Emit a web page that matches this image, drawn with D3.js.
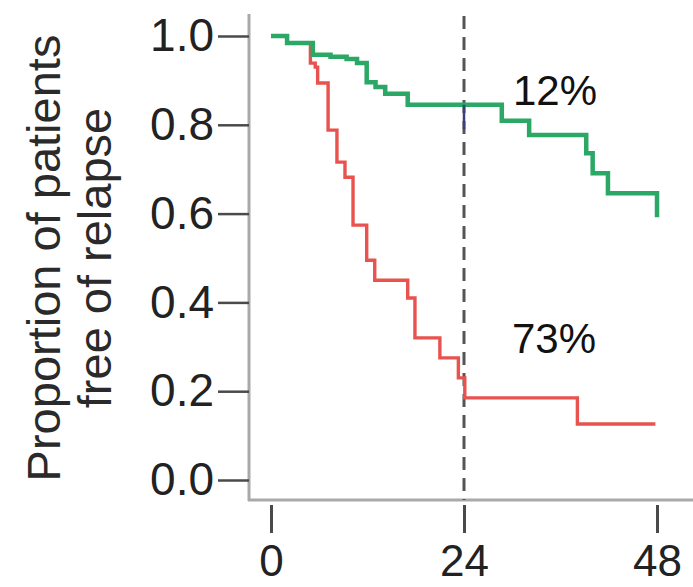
<!DOCTYPE html>
<html>
<head>
<meta charset="utf-8">
<script src="https://cdn.jsdelivr.net/npm/d3@7/dist/d3.min.js"></script>
<style>
  html, body { margin: 0; padding: 0; background: #fff; }
  svg { display: block; font-family: "Liberation Sans", Arial, Helvetica, sans-serif; }
</style>
</head>
<body>
<svg id="chart" width="693" height="587"></svg>
<script>
// Kaplan–Meier step data: months and proportion free of relapse
const greenTimes  = [0, 2.0, 5.2, 7.4, 9.4, 10.7, 11.9, 13.0, 14.2, 17.0, 28.7, 32.1, 39.2, 40.0, 41.9, 48.0];
const greenValues = [1.0, 0.984, 0.958, 0.953, 0.948, 0.939, 0.896, 0.885, 0.870, 0.845, 0.809, 0.777, 0.736, 0.691, 0.646, 0.592];

const redTimes  = [0, 2.0, 4.9, 5.5, 5.8, 7.1, 8.2, 9.2, 10.2, 11.9, 12.9, 17.0, 17.9, 21.0, 23.3, 24.1, 38.1, 47.8];
const redValues = [1.0, 0.984, 0.939, 0.93, 0.894, 0.788, 0.716, 0.682, 0.574, 0.495, 0.45, 0.41, 0.32, 0.275, 0.23, 0.185, 0.126, 0.126];

const xTicks = [0, 24, 48];
const yTicks = [0, 0.2, 0.4, 0.6, 0.8, 1.0];
const landmarkMonth = 24;
const greenLabel = "12%";
const redLabel = "73%";
const yTitleLines = ["Proportion of patients", "free of relapse"];

const svg = d3.select("#chart");

const x = d3.scaleLinear().domain([0, 48]).range([271, 657]);
const y = d3.scaleLinear().domain([0, 1]).range([480, 36]);

// axis lines
svg.append("line")
  .attr("x1", 249).attr("x2", 249).attr("y1", 14).attr("y2", 501)
  .attr("stroke", "#a9a9a9").attr("stroke-width", 3);
svg.append("line")
  .attr("x1", 248).attr("x2", 693).attr("y1", 500).attr("y2", 500)
  .attr("stroke", "#a9a9a9").attr("stroke-width", 3);

// y axis
const yAxis = svg.append("g")
  .attr("transform", "translate(249,0)")
  .call(d3.axisLeft(y).tickValues(yTicks).tickFormat(d3.format(".1f")).tickSize(31).tickPadding(4));
yAxis.select(".domain").remove();
yAxis.selectAll(".tick line").attr("stroke", "#4a4a4a").attr("stroke-width", 2.5);
yAxis.selectAll(".tick text")
  .attr("font-size", 46).attr("fill", "#222").attr("font-family", "Liberation Sans, Arial, sans-serif");

// x axis
const xAxis = svg.append("g")
  .attr("transform", "translate(0,505)")
  .call(d3.axisBottom(x).tickValues(xTicks).tickFormat(d3.format("d")).tickSize(28).tickPadding(12));
xAxis.select(".domain").remove();
xAxis.selectAll(".tick line").attr("stroke", "#4a4a4a").attr("stroke-width", 3);
xAxis.selectAll(".tick text")
  .attr("font-size", 44).attr("fill", "#222").attr("font-family", "Liberation Sans, Arial, sans-serif");

// y axis title
const yTitle = svg.append("text")
  .attr("transform", "translate(0,258) rotate(-90)")
  .attr("text-anchor", "middle")
  .attr("font-size", 47)
  .attr("fill", "#2a2a2a");
yTitle.selectAll("tspan").data(yTitleLines).join("tspan")
  .attr("x", 0)
  .attr("y", (d, i) => 60 + i * 51)
  .text(d => d);

// landmark dashed line at 24 months
svg.append("line")
  .attr("x1", x(landmarkMonth)).attr("x2", x(landmarkMonth))
  .attr("y1", 16).attr("y2", 500)
  .attr("stroke", "#555").attr("stroke-width", 3)
  .attr("stroke-dasharray", "13,8");

const stepLine = d3.line()
  .x(d => x(d[0]))
  .y(d => y(d[1]))
  .curve(d3.curveStepAfter);

const redData = redTimes.map((t, i) => [t, redValues[i]]);
const greenData = greenTimes.map((t, i) => [t, greenValues[i]]);

svg.append("path")
  .datum(redData)
  .attr("d", stepLine)
  .attr("fill", "none")
  .attr("stroke", "#e8534f")
  .attr("stroke-width", 3.4);

svg.append("path")
  .datum(greenData)
  .attr("d", stepLine)
  .attr("fill", "none")
  .attr("stroke", "#2ba766")
  .attr("stroke-width", 4.5);

// marker at the landmark on the green curve
svg.append("line")
  .attr("x1", x(landmarkMonth)).attr("x2", x(landmarkMonth))
  .attr("y1", y(0.845)).attr("y2", y(0.79))
  .attr("stroke", "#3a3f7a").attr("stroke-width", 2.5);

// annotations
svg.append("text")
  .attr("x", 513).attr("y", 105)
  .attr("font-size", 42).attr("fill", "#111")
  .text(greenLabel);
svg.append("text")
  .attr("x", 512).attr("y", 353)
  .attr("font-size", 42).attr("fill", "#111")
  .text(redLabel);
</script>
</body>
</html>
